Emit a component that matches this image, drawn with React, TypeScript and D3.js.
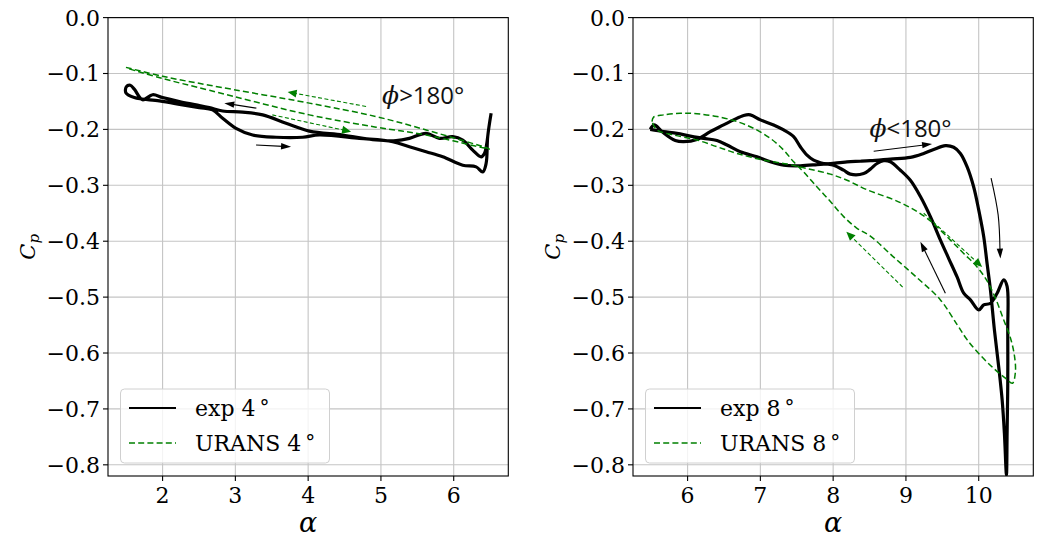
import React from "react";
import * as d3 from "d3";

// ---------- data ----------
const yTicks = [0, -0.1, -0.2, -0.3, -0.4, -0.5, -0.6, -0.7, -0.8];
const xTicksLeft = [2, 3, 4, 5, 6];
const xTicksRight = [6, 7, 8, 9, 10];

// exp 4°
const expLeftAlpha = [6.514, 6.467, 6.445, 6.399, 6.308, 6.124, 5.849, 5.621, 5.391, 5.161, 4.704, 4.154, 3.924, 3.559, 3.237, 3.009, 2.825, 2.687, 2.504, 2.275, 1.955, 1.611, 1.497, 1.501, 1.556, 1.611, 1.725, 1.863, 2.0, 2.23, 2.459, 2.642, 2.825, 3.1, 3.375, 3.696, 4.016, 4.474, 4.933, 5.208, 5.391, 5.621, 5.803, 5.986, 6.124, 6.261, 6.377, 6.422, 6.467];
const expLeftCp = [-0.171, -0.213, -0.261, -0.276, -0.267, -0.264, -0.249, -0.24, -0.231, -0.222, -0.216, -0.21, -0.214, -0.214, -0.21, -0.198, -0.18, -0.165, -0.161, -0.156, -0.149, -0.143, -0.135, -0.124, -0.121, -0.128, -0.147, -0.138, -0.143, -0.15, -0.156, -0.161, -0.167, -0.169, -0.174, -0.189, -0.203, -0.21, -0.219, -0.22, -0.216, -0.207, -0.216, -0.213, -0.219, -0.237, -0.249, -0.243, -0.213];

// URANS 4°
const uransLeftAlpha = [1.497, 2.0, 2.644, 4.016, 4.933, 5.621, 6.49, 5.621, 4.933, 4.016, 2.644, 2.0, 1.497];
const uransLeftCp = [-0.089, -0.105, -0.121, -0.153, -0.177, -0.201, -0.235, -0.21, -0.196, -0.174, -0.13, -0.109, -0.09];

// exp 8°
const expRightAlpha = [5.487, 5.67, 5.854, 6.037, 6.22, 6.404, 6.542, 6.724, 6.954, 7.137, 7.32, 7.549, 7.779, 7.961, 8.191, 8.374, 8.511, 8.786, 9.061, 9.244, 9.381, 9.542, 9.656, 9.748, 9.841, 9.931, 10.0, 10.069, 10.115, 10.161, 10.216, 10.275, 10.322, 10.353, 10.381,
  10.39, 10.399, 10.399, 10.39, 10.344, 10.253, 10.161, 10.069, 10.0, 9.886, 9.794, 9.703, 9.588, 9.474, 9.336, 9.199, 9.061, 8.924, 8.786, 8.694, 8.603, 8.511, 8.419, 8.236, 8.144, 8.007, 7.869, 7.732, 7.641, 7.549, 7.457, 7.32, 7.182, 7.0, 6.862, 6.77, 6.632, 6.495, 6.312, 6.129, 5.945, 5.831, 5.739, 5.648, 5.625, 5.542, 5.487];
const expRightCp = [-0.2, -0.204, -0.207, -0.212, -0.216, -0.22, -0.228, -0.24, -0.249, -0.258, -0.264, -0.265, -0.263, -0.261, -0.258, -0.257, -0.256, -0.253, -0.25, -0.243, -0.236, -0.229, -0.232, -0.243, -0.267, -0.303, -0.344, -0.392, -0.44, -0.487, -0.559, -0.625, -0.684, -0.744, -0.818,
  -0.744, -0.654, -0.559, -0.481, -0.469, -0.493, -0.511, -0.514, -0.523, -0.505, -0.493, -0.464, -0.431, -0.398, -0.356, -0.32, -0.291, -0.273, -0.258, -0.256, -0.261, -0.271, -0.279, -0.28, -0.273, -0.264, -0.261, -0.255, -0.246, -0.231, -0.213, -0.201, -0.192, -0.183, -0.174, -0.175, -0.183, -0.192, -0.204, -0.218, -0.222, -0.22, -0.213, -0.204, -0.201, -0.192, -0.2];

// URANS 8°
const uransRightAlpha = [5.511, 5.533, 5.67, 5.9, 6.129, 6.404, 6.679, 6.907, 7.137, 7.32, 7.457, 7.594, 7.779, 7.962, 8.144, 8.319, 8.511, 8.828, 9.158, 9.474, 9.707, 9.845, 10.023, 10.202, 10.367, 10.463,
  10.504, 10.491, 10.436, 10.344, 10.23, 10.115, 9.978, 9.794, 9.611, 9.291, 8.924, 8.466, 8.191, 7.962, 7.641, 7.366, 7.045, 6.679, 6.404, 6.129, 5.808, 5.579, 5.511];
const uransRightCp = [-0.186, -0.178, -0.174, -0.171, -0.172, -0.177, -0.186, -0.198, -0.216, -0.237, -0.258, -0.276, -0.303, -0.329, -0.356, -0.376, -0.391, -0.428, -0.466, -0.505, -0.55, -0.577, -0.604, -0.627, -0.645, -0.654,
  -0.634, -0.605, -0.573, -0.541, -0.502, -0.471, -0.446, -0.422, -0.398, -0.359, -0.331, -0.308, -0.291, -0.28, -0.27, -0.262, -0.255, -0.243, -0.231, -0.219, -0.21, -0.201, -0.186];

// direction arrows (alpha, Cp) point lists, last point = head
const arrowsLeftBlack = [
  [[3.288, -0.162], [2.848, -0.153]],
  [[3.284, -0.228], [3.765, -0.231]],
];
const arrowsLeftGreen = [
  [[4.796, -0.159], [3.718, -0.133]],
  [[3.508, -0.174], [4.59, -0.204]],
];
const arrowsRightBlack = [
  [[8.557, -0.239], [9.359, -0.226]],
  [[10.17, -0.287], [10.267, -0.353], [10.298, -0.431]],
  [[9.542, -0.493], [9.199, -0.401]],
];
const arrowsRightGreen = [
  [[8.955, -0.482], [8.181, -0.383]],
  [[9.244, -0.35], [10.047, -0.446]],
];

const legendLeft = ["exp 4", "URANS 4"];
const legendRight = ["exp 8", "URANS 8"];
const annotLeft = { alpha: 5.016, cp: -0.1546, text: ">180°" };
const annotRight = { alpha: 8.498, cp: -0.2127, text: "<180°" };

// ---------- layout ----------
const W = 1041;
const H = 539;
const TOP = 17.6;
const BOTTOM = 476;
const GREEN = "#008000";
const SERIF = "'DejaVu Serif', serif";

const zip = (a: number[], b: number[]) => a.map((v, i) => [v, b[i]] as [number, number]);

function arrowHead(x1: number, y1: number, x2: number, y2: number, len: number, hw: number) {
  const dx = x2 - x1, dy = y2 - y1;
  const L = Math.hypot(dx, dy) || 1;
  const ux = dx / L, uy = dy / L;
  const bx = x2 - ux * len, by = y2 - uy * len;
  const px = -uy, py = ux;
  return `${x2},${y2} ${bx + px * hw},${by + py * hw} ${bx - px * hw},${by - py * hw}`;
}

function Panel(props: any) {
  const { id, left, right, xDomain, xTicks, exp, urans, blackArrows, greenArrows, legend, annot } = props;
  const x = d3.scaleLinear().domain(xDomain).range([left, right]);
  const y = d3.scaleLinear().domain([-0.82, 0]).range([BOTTOM, TOP]);
  const fmt = d3.format(".1f");
  const line = d3
    .line<[number, number]>()
    .x((d) => x(d[0]))
    .y((d) => y(d[1]))
    .curve(d3.curveCatmullRom.alpha(0.5));

  const drawArrow = (pts: number[][], color: string, dashed: boolean, key: string, len: number, hw: number) => {
    const px = pts.map((p) => [x(p[0]), y(p[1])] as [number, number]);
    const n = px.length;
    const [x1, y1] = px[n - 2];
    const [x2, y2] = px[n - 1];
    const L = Math.hypot(x2 - x1, y2 - y1);
    const sx = x2 - ((x2 - x1) / L) * (len * 0.8);
    const sy = y2 - ((y2 - y1) / L) * (len * 0.8);
    const shaft = px.slice(0, n - 1).concat([[sx, sy]]);
    const shaftGen = d3.line().curve(d3.curveCatmullRom.alpha(0.5));
    return (
      <g key={key}>
        <path d={shaftGen(shaft as any) || ""} fill="none" stroke={color} strokeWidth={1.1} strokeDasharray={dashed ? "4,2.4" : undefined} />
        <polygon points={arrowHead(x1, y1, x2, y2, len, hw)} fill={color} />
      </g>
    );
  };

  return (
    <g>
      <defs>
        <clipPath id={`clip-${id}`}>
          <rect x={left} y={TOP} width={right - left} height={BOTTOM - TOP} />
        </clipPath>
      </defs>
      {/* grid */}
      {xTicks.map((t: number) => (
        <line key={`gx${t}`} x1={x(t)} x2={x(t)} y1={TOP} y2={BOTTOM} stroke="#c4c4c4" strokeWidth={1.1} />
      ))}
      {yTicks.map((t) => (
        <line key={`gy${t}`} x1={left} x2={right} y1={y(t)} y2={y(t)} stroke="#c4c4c4" strokeWidth={1.1} />
      ))}
      {/* data */}
      <g clipPath={`url(#clip-${id})`}>
        <path d={line(exp) || ""} fill="none" stroke="#000" strokeWidth={3.2} strokeLinejoin="round" />
        <path d={line(urans) || ""} fill="none" stroke={GREEN} strokeWidth={1.5} strokeDasharray="6,3.2" />
      </g>
      {/* arrows */}
      {blackArrows.map((a: number[][], i: number) => drawArrow(a, "#000", false, `ba${i}`, 10, 3.2))}
      {greenArrows.map((a: number[][], i: number) => drawArrow(a, GREEN, true, `ga${i}`, 9, 4))}
      {/* annotation */}
      <text x={x(annot.alpha)} y={y(annot.cp)} fontSize={24} fill="#111">
        <tspan fontFamily={SERIF} fontStyle="italic" fontSize={25}>ϕ</tspan>
        <tspan fontFamily="'Open Sans', sans-serif">{annot.text}</tspan>
      </text>
      {/* spines */}
      <rect x={left} y={TOP} width={right - left} height={BOTTOM - TOP} fill="none" stroke="#000" strokeWidth={1.1} />
      {/* y ticks */}
      {yTicks.map((t) => (
        <g key={`yt${t}`}>
          <line x1={left - 5} x2={left} y1={y(t)} y2={y(t)} stroke="#000" strokeWidth={1.1} />
          <text x={left - 8} y={y(t)} dy="0.36em" textAnchor="end" fontFamily={SERIF} fontSize={22} fill="#000">
            {fmt(t)}
          </text>
        </g>
      ))}
      {/* x ticks */}
      {xTicks.map((t: number) => (
        <g key={`xt${t}`}>
          <line x1={x(t)} x2={x(t)} y1={BOTTOM} y2={BOTTOM + 5} stroke="#000" strokeWidth={1.1} />
          <text x={x(t)} y={BOTTOM + 27} textAnchor="middle" fontFamily={SERIF} fontSize={22} fill="#000">
            {t}
          </text>
        </g>
      ))}
      {/* axis labels */}
      <text x={(left + right) / 2} y={532} textAnchor="middle" fontFamily={SERIF} fontStyle="italic" fontSize={27} fill="#000">
        α
      </text>
      <text transform={`translate(${left - 73},${(TOP + BOTTOM) / 2}) rotate(-90)`} textAnchor="middle" fontFamily={SERIF} fontSize={21} fill="#000">
        <tspan fontStyle="italic">C</tspan>
        <tspan fontStyle="italic" fontSize={15} dy={4}>p</tspan>
      </text>
      {/* legend */}
      <g>
        <rect x={left + 12.5} y={389} width={209} height={74} rx={4} fill="#fff" fillOpacity={0.8} stroke="#d0d0d0" strokeWidth={1} />
        <line x1={left + 21} x2={left + 68} y1={408} y2={408} stroke="#000" strokeWidth={2} />
        <line x1={left + 21} x2={left + 68} y1={443} y2={443} stroke={GREEN} strokeWidth={1.6} strokeDasharray="6,3.2" />
        <text x={left + 87} y={416} fontFamily={SERIF} fontSize={22} fill="#000">
          {legend[0]}
          <tspan fontSize={20} dx={4} dy={-2}>°</tspan>
        </text>
        <text x={left + 87} y={451} fontFamily={SERIF} fontSize={22} fill="#000">
          {legend[1]}
          <tspan fontSize={20} dx={4} dy={-2}>°</tspan>
        </text>
      </g>
    </g>
  );
}

export default function App() {
  const expL = zip(expLeftAlpha, expLeftCp);
  const uransL = zip(uransLeftAlpha, uransLeftCp);
  const expR = zip(expRightAlpha, expRightCp);
  const uransR = zip(uransRightAlpha, uransRightCp);
  return (
    <svg width={W} height={H} style={{ position: "absolute", left: 0, top: 0, background: "#fff" }}>
      <rect x={0} y={0} width={W} height={H} fill="#fff" />
      <Panel id="l" left={108} right={508.3} xDomain={[1.25, 6.75]} xTicks={xTicksLeft} exp={expL} urans={uransL}
        blackArrows={arrowsLeftBlack} greenArrows={arrowsLeftGreen} legend={legendLeft} annot={annotLeft} />
      <Panel id="r" left={633} right={1033.3} xDomain={[5.25, 10.75]} xTicks={xTicksRight} exp={expR} urans={uransR}
        blackArrows={arrowsRightBlack} greenArrows={arrowsRightGreen} legend={legendRight} annot={annotRight} />
    </svg>
  );
}
